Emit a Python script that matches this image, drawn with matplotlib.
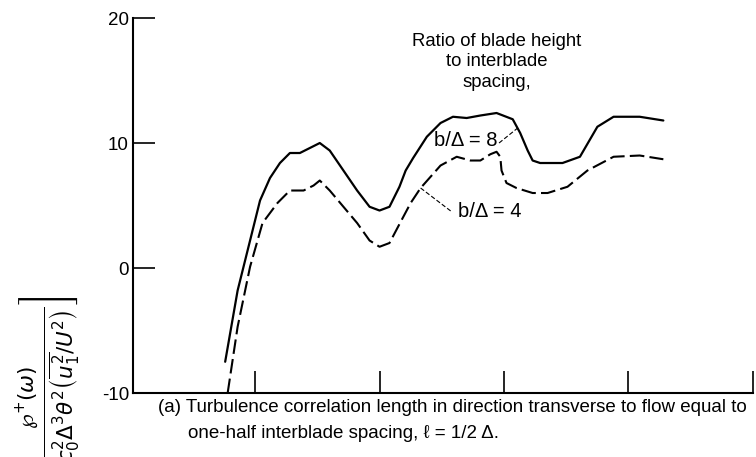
import matplotlib
matplotlib.use("Agg")
import matplotlib.pyplot as plt

# curve b/delta = 8 (solid)
x_b8 = [0.76, 0.86, 0.94, 1.04, 1.12, 1.20, 1.28, 1.36, 1.44, 1.52, 1.60, 1.71,
        1.82, 1.92, 2.00, 2.08, 2.16, 2.21, 2.27, 2.38, 2.49, 2.59, 2.70, 2.81,
        2.94, 3.07, 3.13, 3.19, 3.23, 3.29, 3.47, 3.61, 3.75, 3.88, 4.09, 4.28]
y_b8 = [-7.5, -1.8, 1.4, 5.4, 7.2, 8.4, 9.2, 9.2, 9.6, 10.0, 9.4, 7.8,
        6.2, 4.9, 4.6, 4.9, 6.5, 7.8, 8.8, 10.5, 11.6, 12.1, 12.0, 12.2,
        12.4, 11.9, 10.8, 9.4, 8.6, 8.4, 8.4, 8.9, 11.3, 12.1, 12.1, 11.8]

# curve b/delta = 4 (dashed)
x_b4 = [0.78, 0.86, 0.96, 1.06, 1.18, 1.28, 1.39, 1.47, 1.52, 1.60, 1.71, 1.82,
        1.92, 2.00, 2.08, 2.17, 2.25, 2.33, 2.49, 2.62, 2.73, 2.81, 2.89, 2.94,
        2.97, 2.98, 3.02, 3.10, 3.23, 3.35, 3.51, 3.67, 3.88, 4.09, 4.28]
y_b4 = [-10.0, -4.7, 0.1, 3.6, 5.2, 6.2, 6.2, 6.6, 7.0, 6.2, 4.9, 3.6,
        2.2, 1.7, 2.0, 3.7, 5.2, 6.4, 8.2, 8.9, 8.6, 8.6, 9.1, 9.3,
        8.9, 7.8, 6.8, 6.4, 6.0, 6.0, 6.5, 7.8, 8.9, 9.0, 8.7]

y_ticks = [-10, 0, 10, 20]
x_ticks = [1, 2, 3, 4, 5]

font = ["Liberation Sans", "DejaVu Sans"]
plt.rcParams["font.family"] = font

fig = plt.figure(figsize=(7.56, 4.57), dpi=100)
ax = fig.add_axes([0.176, 0.140, 0.820, 0.8206])

ax.plot(x_b8, y_b8, color="black", lw=1.6, solid_capstyle="round")
ax.plot(x_b4, y_b4, color="black", lw=1.5, linestyle=(0, (7, 2.5)))

# leader lines for the labels
ax.plot([2.96, 3.11], [10.0, 11.2], color="black", lw=0.8, linestyle=(0, (4, 2)))
ax.plot([2.33, 2.58], [6.4, 4.5], color="black", lw=0.8, linestyle=(0, (4, 2)))

ax.text(2.95, 10.2, "b/\u0394 = 8", ha="right", va="center", fontsize=14.5)
ax.text(2.63, 4.5, "b/\u0394 = 4", ha="left", va="center", fontsize=14.5)
ax.text(2.94, 16.5, "Ratio of blade height\nto interblade\nspacing,",
        ha="center", va="center", fontsize=13.3, linespacing=1.25)

ax.set_xlim(0.02, 5.0)
ax.set_ylim(-10, 20)
ax.set_xticks(x_ticks)
ax.set_xticklabels([])
ax.set_yticks(y_ticks)
ax.set_yticklabels(["-10", "0", "10", "20"])
ax.tick_params(direction="in", length=16, width=1.2, labelsize=13.5, pad=3)
for side in ["top", "right"]:
    ax.spines[side].set_visible(False)
for side in ["left", "bottom"]:
    ax.spines[side].set_linewidth(1.5)

fig.text(158 / 756, 1 - 408 / 457,
         "(a) Turbulence correlation length in direction transverse to flow equal to",
         ha="left", va="center", fontsize=13.5)
fig.text(188 / 756, 1 - 433 / 457,
         "one-half interblade spacing, \u2113 = 1/2 \u0394.",
         ha="left", va="center", fontsize=13.5)

ylab = (r"$\left[\frac{\wp^{+}(\omega)}"
        r"{\rho_0 c_0^2 \Delta^3 \theta^2 \left(\overline{u_1^2}/U^2\right)}\right]$")
fig.text(48 / 756, 1 - 296 / 457, ylab, rotation=90, ha="center", va="top",
         fontsize=22)

fig.savefig("out.png", dpi=100)
